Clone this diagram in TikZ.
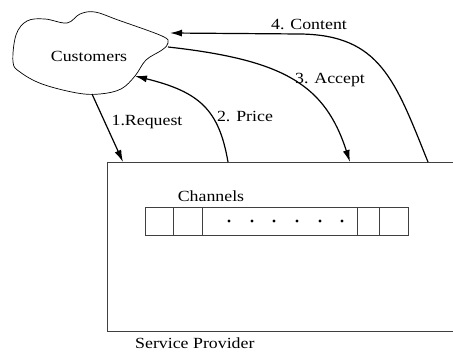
\documentclass[tikz,border=0pt]{standalone}
\usepackage{fontspec}
\setmainfont{Liberation Serif}
\newfontfamily\timesfam{Liberation Serif}
\usetikzlibrary{arrows.meta}
\newcommand\sxt[1]{\scalebox{1.15}[1]{#1}}
\tikzset{
  lbl/.style={font=\timesfam\fontsize{15.5}{18}\selectfont, inner sep=0pt, anchor=base},
  flow/.style={line width=1.2pt, -{Latex[length=12pt,width=7pt]}},
  frame/.style={line width=0.8pt, draw=black!75},
}
\begin{document}
\begin{tikzpicture}[x=1pt,y=-1pt]
\useasboundingbox (0,0) rectangle (453,352);
\clip (0,0) rectangle (453,352);
% cloud
\draw[line width=0.7pt] plot[smooth cycle, tension=0.6] coordinates {
 (13,62) (16,35) (27,21) (45,19) (67,23) (80,14) (95,12) (118,20) (162,36) (168,43) (162,50) (146,60) (135,76) (121,89) (100,94) (77,93) (42,84) (20,72)};
\node[lbl] (cust) at (89,62) {\sxt{Customers}};
\coordinate (c1) at (92,94);
\coordinate (c2) at (135,76);
\coordinate (c3) at (168,47);
\coordinate (c4) at (170,33);
% provider box
\node[frame, draw, rectangle, minimum width=363pt, minimum height=169pt, inner sep=0pt] (sp) at (288.5,246.5) {};
\coordinate (p1) at (123,162);
\coordinate (p2) at (228,162);
\coordinate (p3) at (350,162);
\coordinate (p4) at (428,162);
\node[lbl, anchor=base west] (splbl) at (135,349) {\sxt{Service Provider}};
% channels
\node[lbl] (chl) at (211,202) {\sxt{Channels}};
\draw[frame] (145,207) rectangle (408,235);
\foreach \x in {173,202,357,379} \draw[frame] (\x,207) -- (\x,235);
\foreach \x in {229,252,274,297,320,342} \fill (\x,221) circle (1.7pt);
% arrows
\draw[flow] (c1) -- (p1);
\draw[flow] (p2) .. controls (219,110) and (200,92) .. (c2);
\draw[flow] (c3) .. controls (285,60) and (325,85) .. (p3);
\draw[flow] (p4) .. controls (395,80) and (380,35) .. (300,34) -- (c4);
% labels
\node[lbl] (l1) at (147,126) {\sxt{1.Request}};
\node[lbl] (l2) at (245,122) {\sxt{2. Price}};
\node[lbl] (l3) at (330,84) {\sxt{3. Accept}};
\node[lbl] (l4) at (309,30) {\sxt{4. Content}};
\end{tikzpicture}
\end{document}
